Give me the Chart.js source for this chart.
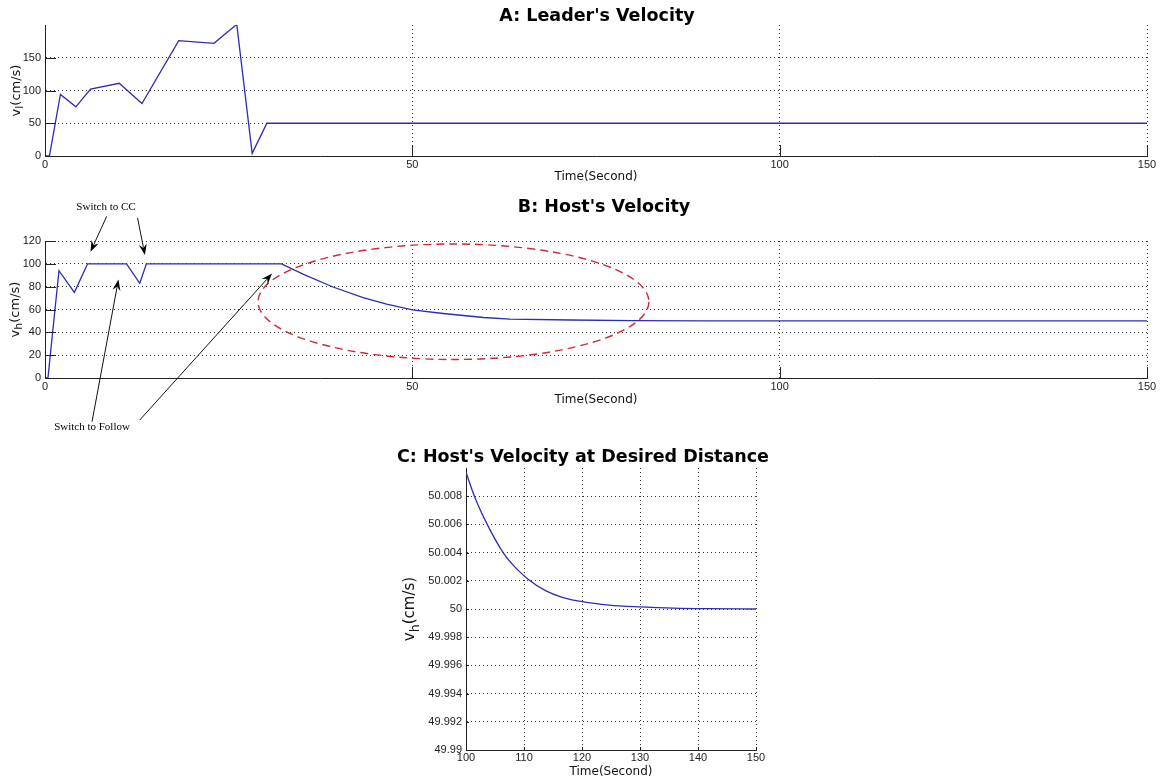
<!DOCTYPE html>
<html>
<head>
<meta charset="utf-8">
<script src="https://cdn.jsdelivr.net/npm/chart.js@4.4.0/dist/chart.umd.min.js"></script>
<style>
  html, body { margin: 0; padding: 0; background: #fff; overflow: hidden; }
  #wrap { position: relative; width: 1161px; height: 781px; }
  canvas { position: absolute; }
</style>
</head>
<body>
<div id="wrap">
  <canvas id="chartA" width="1161" height="190" style="left:0;top:0"></canvas>
  <canvas id="chartB" width="1161" height="250" style="left:0;top:190px"></canvas>
  <canvas id="chartC" width="386" height="341" style="left:390px;top:440px"></canvas>
</div>
<script>
// Datos
const leaderTime  = [0, 0.6, 2.1, 4.2, 6.2, 10.1, 13.2, 18.2, 23, 26.1, 28.2, 30.2, 150];
const leaderSpeed = [0, 0, 94, 75, 102, 111, 80, 176, 172, 201, 4, 50, 50];

const hostTime  = [0, 0.4, 1.9, 4, 5.8, 11.1, 12.9, 13.8, 32.2, 35.2, 39.2, 43.3, 46.5, 50, 54.2, 59.7, 63.3, 71.5, 80, 90, 150];
const hostSpeed = [0, 0, 94, 75, 100, 100, 83, 100, 100, 90.8, 79.7, 70.4, 64.7, 59.7, 56.5, 53, 51.6, 50.8, 50.3, 50.1, 50];

const desiredTime  = [100, 101.45, 103.66, 106.4, 108.7, 110.76, 113.7, 116.6, 120.06, 124.7, 130.1, 135.8, 141.6, 150];
const desiredSpeed = [50.0097, 50.008, 50.006, 50.004, 50.00286, 50.0021, 50.0013, 50.00083, 50.00052, 50.00028, 50.00015, 50.00006, 50.00002, 50];

const timeTicks = [0, 50, 100, 150];
const leaderTicks = [0, 50, 100, 150];
const hostTicks = [0, 20, 40, 60, 80, 100, 120];
const desiredTimeTicks = [100, 110, 120, 130, 140, 150];
const desiredSpeedTicks = [49.99, 49.992, 49.994, 49.996, 49.998, 50, 50.002, 50.004, 50.006, 50.008];
const desiredSpeedLabels = ['49.99', '49.992', '49.994', '49.996', '49.998', '50', '50.002', '50.004', '50.006', '50.008'];

// Anotaciones del panel B (en unidades de datos)
const ellipseB = { cx: 55.6, cy: 66.8, rx: 26.6, ry: 50.6 };
const arrowsB = [
  [8.4, 141.6, 6.2, 110.6],
  [12.6, 140.2, 13.6, 107.7],
  [6.4, -38.3, 10.0, 86.2],
  [12.9, -36.8, 30.9, 91.5]
];
const notesB = [
  { text: 'Switch to CC', x: 8.3, y: 149.3 },
  { text: 'Switch to Follow', x: 6.4, y: -43.4 }
];

const LINE = '#2c2cb4';
const TICK_FONT = { family: '"Liberation Sans", Arial, sans-serif', size: 11 };

function toPoints(xs, ys) {
  return xs.map((x, i) => ({ x: x, y: ys[i] }));
}

// Título centrado en una posición dada
const headingPlugin = {
  id: 'heading',
  afterDraw(chart, args, opts) {
    const ctx = chart.ctx;
    ctx.save();
    ctx.font = 'bold 17.5px "DejaVu Sans"';
    ctx.fillStyle = '#000';
    ctx.textAlign = 'center';
    ctx.textBaseline = 'middle';
    ctx.fillText(opts.text, opts.x, opts.y);
    ctx.restore();
  }
};

// Título vertical con subíndice (v_l, v_h)
const yTitlePlugin = {
  id: 'yTitle',
  afterDraw(chart, args, opts) {
    const ctx = chart.ctx, a = chart.chartArea;
    const parts = [[opts.main, opts.size, 0], [opts.sub, opts.size * 0.85, opts.size * 0.28], [opts.rest, opts.size, 0]];
    ctx.save();
    let total = 0;
    parts.forEach(p => {
      ctx.font = p[1] + 'px "DejaVu Sans"';
      p.push(ctx.measureText(p[0]).width);
      total += p[3];
    });
    ctx.translate(opts.x, (a.top + a.bottom) / 2);
    ctx.rotate(-Math.PI / 2);
    ctx.fillStyle = '#111';
    ctx.textBaseline = 'alphabetic';
    let cx = -total / 2;
    parts.forEach(p => {
      ctx.font = p[1] + 'px "DejaVu Sans"';
      ctx.fillText(p[0], cx, opts.size * 0.36 + p[2]);
      cx += p[3];
    });
    ctx.restore();
  }
};

// Marcas interiores estilo MATLAB
const innerTicksPlugin = {
  id: 'innerTicks',
  afterDraw(chart, args, opts) {
    const ctx = chart.ctx, a = chart.chartArea;
    const xs = chart.scales.x, ys = chart.scales.y;
    ctx.save();
    ctx.strokeStyle = '#222';
    ctx.lineWidth = 1;
    ctx.beginPath();
    xs.ticks.forEach(t => {
      const px = Math.round(xs.getPixelForValue(t.value)) + 0.5;
      ctx.moveTo(px, a.bottom);
      ctx.lineTo(px, a.bottom - opts.len);
    });
    ys.ticks.forEach(t => {
      const py = Math.round(ys.getPixelForValue(t.value)) + 0.5;
      ctx.moveTo(a.left, py);
      ctx.lineTo(a.left + opts.len, py);
    });
    ctx.stroke();
    ctx.restore();
  }
};

function drawArrow(ctx, x1, y1, x2, y2) {
  const ang = Math.atan2(y2 - y1, x2 - x1), L = 11, W = 4;
  const c = Math.cos(ang), s = Math.sin(ang);
  ctx.beginPath();
  ctx.moveTo(x1, y1);
  ctx.lineTo(x2 - L * 0.7 * c, y2 - L * 0.7 * s);
  ctx.stroke();
  ctx.beginPath();
  ctx.moveTo(x2, y2);
  ctx.lineTo(x2 - L * c + W * s, y2 - L * s - W * c);
  ctx.lineTo(x2 - L * 0.65 * c, y2 - L * 0.65 * s);
  ctx.lineTo(x2 - L * c - W * s, y2 - L * s + W * c);
  ctx.closePath();
  ctx.fill();
}

const notesPlugin = {
  id: 'notes',
  afterDraw(chart) {
    const ctx = chart.ctx;
    const px = v => chart.scales.x.getPixelForValue(v);
    const py = v => chart.scales.y.getPixelForValue(v);
    ctx.save();
    // elipse roja discontinua
    ctx.strokeStyle = '#cc2a36';
    ctx.lineWidth = 1.4;
    ctx.setLineDash([8, 5]);
    ctx.beginPath();
    ctx.ellipse(px(ellipseB.cx), py(ellipseB.cy),
      px(ellipseB.cx + ellipseB.rx) - px(ellipseB.cx),
      py(ellipseB.cy - ellipseB.ry) - py(ellipseB.cy), 0, 0, 2 * Math.PI);
    ctx.stroke();
    ctx.setLineDash([]);
    // flechas
    ctx.strokeStyle = '#111';
    ctx.fillStyle = '#000';
    ctx.lineWidth = 1;
    arrowsB.forEach(a => drawArrow(ctx, px(a[0]), py(a[1]), px(a[2]), py(a[3])));
    // textos
    ctx.font = '11px "Liberation Serif", "Times New Roman", serif';
    ctx.textAlign = 'center';
    ctx.textBaseline = 'middle';
    notesB.forEach(n => ctx.fillText(n.text, px(n.x), py(n.y)));
    ctx.restore();
  }
};

function makeScales(o) {
  const hideAt = v => ctx => (ctx.tick && Math.abs(ctx.tick.value - v) < 1e-9) ? 'rgba(0,0,0,0)' : '#333';
  return {
    x: {
      type: 'linear',
      min: o.xMin, max: o.xMax,
      afterBuildTicks: s => { s.ticks = o.xTicks.map(v => ({ value: v })); },
      afterFit: s => { s.height = o.xHeight; },
      grid: { color: hideAt(o.xMin), lineWidth: 1, drawTicks: false },
      border: { display: true, color: '#222', width: 1, dash: [1, 3] },
      ticks: { autoSkip: false, maxRotation: 0, padding: o.xPad, color: '#222', font: TICK_FONT,
               callback: v => String(v) },
      title: { display: true, text: 'Time(Second)', color: '#111',
               font: { family: '"DejaVu Sans"', size: 12 }, padding: { top: 0, bottom: o.xTitlePad } }
    },
    y: {
      type: 'linear',
      min: o.yMin, max: o.yMax,
      afterBuildTicks: s => { s.ticks = o.yTicks.map(v => ({ value: v })); },
      afterFit: s => { s.width = o.yWidth; },
      grid: { color: hideAt(o.yMin), lineWidth: 1, drawTicks: false },
      border: { display: true, color: '#222', width: 1, dash: [1, 3] },
      ticks: { autoSkip: false, padding: 4, color: '#222', font: TICK_FONT,
               callback: o.yLabels ? ((v, i) => o.yLabels[i]) : (v => String(v)) }
    }
  };
}

function makeChart(id, o) {
  return new Chart(document.getElementById(id), {
    type: 'line',
    data: {
      datasets: [{
        data: toPoints(o.xs, o.ys),
        borderColor: LINE,
        borderWidth: 1.3,
        pointRadius: 0,
        fill: false,
        tension: 0,
        cubicInterpolationMode: o.smooth ? 'monotone' : 'default'
      }]
    },
    options: {
      responsive: false,
      animation: false,
      parsing: false,
      layout: { padding: o.padding },
      scales: makeScales(o),
      plugins: {
        legend: { display: false },
        tooltip: { enabled: false },
        heading: o.heading,
        yTitle: o.yTitle,
        innerTicks: { len: o.tickLen }
      }
    },
    plugins: [headingPlugin, yTitlePlugin, innerTicksPlugin].concat(o.extra || [])
  });
}

makeChart('chartA', {
  xs: leaderTime, ys: leaderSpeed,
  xMin: 0, xMax: 150, xTicks: timeTicks,
  yMin: 0, yMax: 200, yTicks: leaderTicks,
  padding: { left: 0, right: 14, top: 25, bottom: 0 },
  yWidth: 45, xHeight: 34, xPad: 2, xTitlePad: 6,
  tickLen: 11,
  heading: { text: "A: Leader's Velocity", x: 597, y: 16 },
  yTitle: { main: 'v', sub: 'l', rest: '(cm/s)', size: 13, x: 15 }
});

makeChart('chartB', {
  xs: hostTime, ys: hostSpeed,
  xMin: 0, xMax: 150, xTicks: timeTicks,
  yMin: 0, yMax: 120, yTicks: hostTicks,
  padding: { left: 0, right: 14, top: 51, bottom: 0 },
  yWidth: 45, xHeight: 62, xPad: 2, xTitlePad: 33,
  tickLen: 11,
  heading: { text: "B: Host's Velocity", x: 604, y: 17 },
  yTitle: { main: 'v', sub: 'h', rest: '(cm/s)', size: 13, x: 14 },
  extra: [notesPlugin]
});

makeChart('chartC', {
  xs: desiredTime, ys: desiredSpeed, smooth: true,
  xMin: 100, xMax: 150, xTicks: desiredTimeTicks,
  yMin: 49.99, yMax: 50.01, yTicks: desiredSpeedTicks, yLabels: desiredSpeedLabels,
  padding: { left: 0, right: 20, top: 28, bottom: 0 },
  yWidth: 76, xHeight: 31, xPad: 1, xTitlePad: 2,
  tickLen: 3,
  heading: { text: "C: Host's Velocity at Desired Distance", x: 193, y: 17 },
  yTitle: { main: 'v', sub: 'h', rest: '(cm/s)', size: 15, x: 19 }
});
</script>
</body>
</html>
